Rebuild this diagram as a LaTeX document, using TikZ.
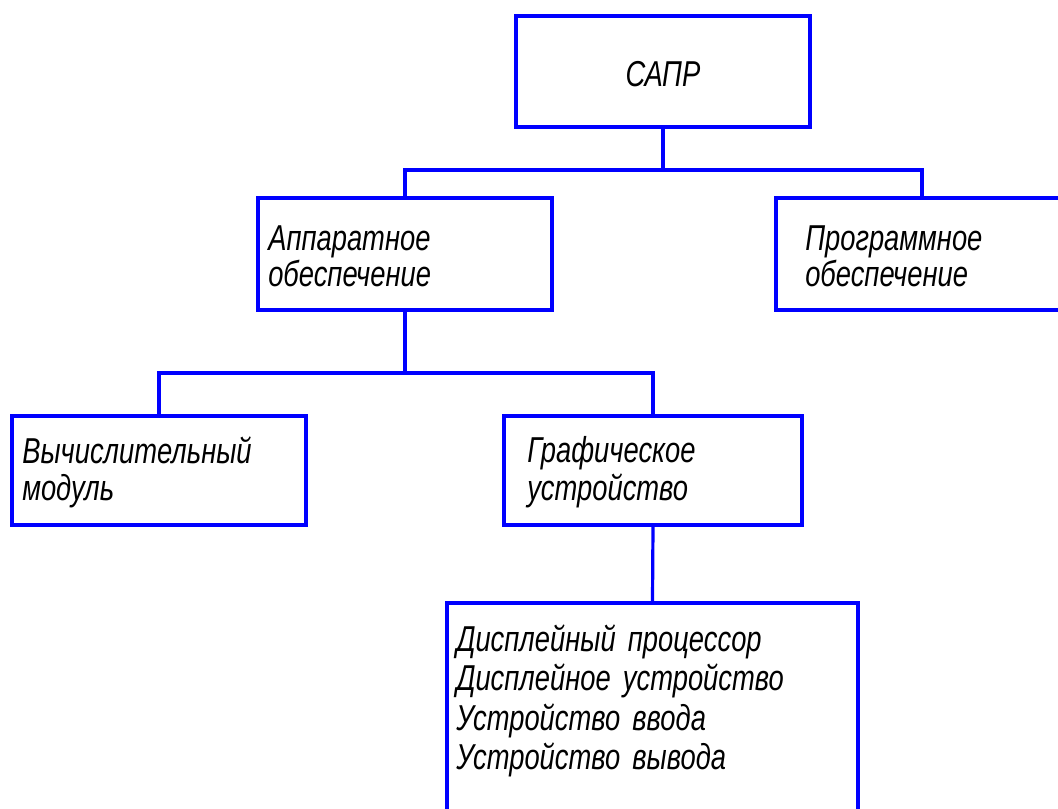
\documentclass[tikz,border=0pt]{standalone}
\usepackage{fontspec}
\newfontfamily\gost{Liberation Sans}[FakeStretch=0.76, WordSpace=1.6]
\tikzset{
  box/.style={draw=boxblue, line width=2.4pt, rectangle, inner sep=0pt},
  conn/.style={draw=boxblue, line width=2.4pt},
  lbl/.style={anchor=base west, inner sep=0pt, font=\gost\itshape\fontsize{27}{29}\selectfont},
}
\definecolor{boxblue}{RGB}{0,0,255}
\begin{document}
\begin{tikzpicture}[x=0.75pt,y=-0.75pt]
\useasboundingbox (0,0) rectangle (1058,808);
\clip (0,0) rectangle (1058,808);
\fill[white] (0,0) rectangle (1058,808);
% boxes
\node[box, minimum width=294*0.75pt, minimum height=111*0.75pt] (sapr) at (663,71.5) {};
\node[box, minimum width=294*0.75pt, minimum height=112*0.75pt] (app) at (405,254) {};
\node[box, minimum width=292*0.75pt, minimum height=112*0.75pt] (prog) at (922,254) {};
\node[box, minimum width=294*0.75pt, minimum height=109*0.75pt] (vych) at (159,470.5) {};
\node[box, minimum width=298*0.75pt, minimum height=109*0.75pt] (graf) at (653,470.5) {};
\node[box, minimum width=411*0.75pt, minimum height=230*0.75pt] (disp) at (652.5,718) {};
% labels
\node[lbl, anchor=base] (tsapr) at (663,86) {САПР};
\node[lbl] (tapp1) at (268,250) {Аппаратное};
\node[lbl] (tapp2) at (268,286) {обеспечение};
\node[lbl] (tprog1) at (805,250) {Программное};
\node[lbl] (tprog2) at (805,286) {обеспечение};
\node[lbl] (tvych1) at (22,463) {Вычислительный};
\node[lbl] (tvych2) at (22,500) {модуль};
\node[lbl] (tgraf1) at (527,462) {Графическое};
\node[lbl] (tgraf2) at (527,500) {устройство};
\node[lbl] (td1) at (456,651) {Дисплейный процессор};
\node[lbl] (td2) at (456,690) {Дисплейное устройство};
\node[lbl] (td3) at (456,730) {Устройство ввода};
\node[lbl] (td4) at (456,769) {Устройство вывода};
% connectors
\coordinate (j1) at (663,170);
\coordinate (j2) at (405,373);
\draw[conn] (sapr.south) -- (j1);
\draw[conn] (app.north) |- (j1) -| (prog.north);
\draw[conn] (app.south) -- (j2);
\draw[conn] (vych.north) |- (j2) -| (graf.north);
\draw[conn] (graf.south) -- (disp.north);
\end{tikzpicture}
\end{document}
